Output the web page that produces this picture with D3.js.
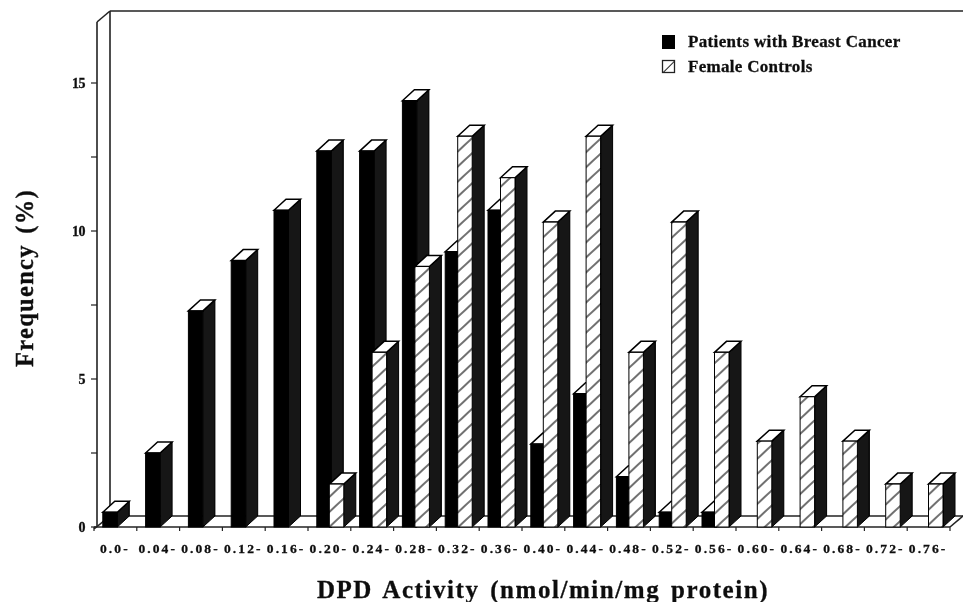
<!DOCTYPE html>
<html><head><meta charset="utf-8"><script src="https://cdn.jsdelivr.net/npm/d3@7"></script>
<style>html,body{margin:0;padding:0;background:#fff}svg{display:block}text{font-family:"Liberation Serif",serif;font-weight:bold;fill:#111;stroke:#111;stroke-width:.3}</style></head>
<body><svg id="c" width="963" height="602"></svg>
<script>
const categories=["0.0-","0.04-","0.08-","0.12-","0.16-","0.20-","0.24-","0.28-","0.32-","0.36-","0.40-","0.44-","0.48-","0.52-","0.56-","0.60-","0.64-","0.68-","0.72-","0.76-"];
const patients=[0.5,2.5,7.3,9,10.7,12.7,12.7,14.4,9.3,10.7,2.8,4.5,1.7,0.5,0.5,0,0,0,0,0];
const controls=[0,0,0,0,0,1.45,5.9,8.8,13.2,11.8,10.3,13.2,5.9,10.3,5.9,2.9,4.4,2.9,1.45,1.45];
const yTicks=[0,5,10,15];
const yMinorTicks=[2.5,7.5,12.5];
const seriesNames=["Patients with Breast Cancer","Female Controls"];

const svg=d3.select("#c");
const dx=12,dy=11,barW=14.5,wallDx=13;
const x=d3.scaleBand().domain(categories).range([94,950]);
const y=d3.scaleLinear().domain([0,15]).range([527,83]);
const plotTop=22,L=97,R=950,B=y(0);
const defs=svg.append("defs");
const p=defs.append("pattern").attr("id","hatch").attr("patternUnits","userSpaceOnUse").attr("width",11).attr("height",11).attr("patternTransform","rotate(-43)");
p.append("rect").attr("width",11).attr("height",11).attr("fill","#fff");
p.append("line").attr("x1",0).attr("x2",11).attr("y1",5).attr("y2",5).attr("stroke","#333").attr("stroke-width",1.4);
const p2=defs.append("pattern").attr("id","hatch2").attr("patternUnits","userSpaceOnUse").attr("width",16).attr("height",16).attr("patternTransform","translate(668.5,66.5) rotate(-45)");
p2.append("rect").attr("width",16).attr("height",16).attr("fill","#fff");
p2.append("line").attr("x1",0).attr("x2",16).attr("y1",0).attr("y2",0).attr("stroke","#222").attr("stroke-width",2);
defs.append("filter").attr("id","scan").append("feGaussianBlur").attr("stdDeviation",0.45);

const g=svg.append("g").attr("filter","url(#scan)");
const ln=(a,b,c,d,w=1.6)=>g.append("line").attr("x1",a).attr("y1",b).attr("x2",c).attr("y2",d).attr("stroke","#222").attr("stroke-width",w);
// walls and floor
ln(L+wallDx,plotTop-dy,R+wallDx,plotTop-dy);
ln(L+wallDx,plotTop-dy,L+wallDx,B-dy);
ln(L,plotTop,L+wallDx,plotTop-dy);
ln(L,plotTop,L,B);
ln(L+wallDx,B-dy,R+wallDx,B-dy);
ln(L-3,B,R,B);
ln(L-3,B+2,L+wallDx,B-dy);
ln(R,B,R+wallDx,B-dy);
// y axis ticks and labels
yMinorTicks.forEach(v=>ln(L-6,y(v),L,y(v),1.2));
yTicks.forEach(v=>{ln(L-6,y(v),L,y(v),1.2);
 g.append("text").attr("x",L-12).attr("y",y(v)+5).attr("text-anchor","end").attr("font-size",14).attr("letter-spacing",-0.5).text(v);});
// x ticks and labels
categories.forEach(c=>{ln(x(c),B,x(c),B+4,1.2);
 g.append("text").attr("x",x(c)+x.bandwidth()/2-0.5).attr("y",553).attr("text-anchor","middle").attr("font-size",13.5).attr("letter-spacing",2.1).text(c);});
ln(R,B,R,B+4,1.2);
// bars
function bar(xx,v,fill){
 const t=y(v);
 g.append("path").attr("d",d3.line()([[xx+barW,t],[xx+barW+dx,t-dy],[xx+barW+dx,B-dy],[xx+barW,B]])+"Z").attr("fill","#141414").attr("stroke","#000").attr("stroke-width",1);
 g.append("path").attr("d",d3.line()([[xx,t],[xx+dx,t-dy],[xx+barW+dx,t-dy],[xx+barW,t]])+"Z").attr("fill","#fff").attr("stroke","#000").attr("stroke-width",1.5);
 g.append("rect").attr("x",xx).attr("y",t).attr("width",barW).attr("height",B-t).attr("fill",fill).attr("stroke","#000").attr("stroke-width",1);
}
categories.forEach((c,i)=>{
 if(patients[i]>0)bar(x(c)+8.8,patients[i],"#000");
 if(controls[i]>0)bar(x(c)+21.3,controls[i],"url(#hatch)");
});
// legend
g.append("rect").attr("x",662).attr("y",35).attr("width",13).attr("height",14).attr("fill","#000");
g.append("rect").attr("x",662.5).attr("y",60.5).attr("width",12).attr("height",12).attr("fill","url(#hatch2)").attr("stroke","#222").attr("stroke-width",1.3);
g.append("text").attr("x",688).attr("y",47).attr("font-size",17).attr("letter-spacing",0.35).text(seriesNames[0]);
g.append("text").attr("x",688).attr("y",72).attr("font-size",17).attr("letter-spacing",0.3).text(seriesNames[1]);
// axis titles
g.append("text").attr("x",543).attr("y",598).attr("text-anchor","middle").attr("font-size",25).attr("letter-spacing",1.55).attr("word-spacing",3).text("DPD Activity (nmol/min/mg protein)");
g.append("text").attr("transform","translate(33,278) rotate(-90)").attr("text-anchor","middle").attr("font-size",24.5).attr("letter-spacing",1.3).attr("word-spacing",3).text("Frequency (%)");
</script></body></html>
